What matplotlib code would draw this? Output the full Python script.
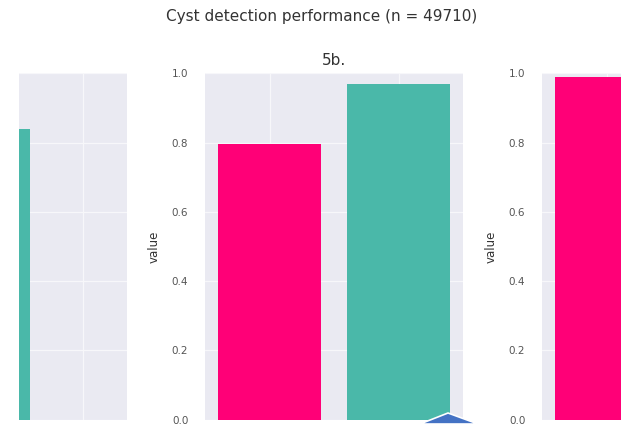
import matplotlib
matplotlib.use("Agg")
import matplotlib.pyplot as plt
from matplotlib.patches import Polygon
import seaborn as sns

left_pos = [1, 2]
left_vals = [0.838, 0.0]
left_colors = ["#4ab8a9", "#ff0077"]

mid_pos = [0, 1]
mid_vals = [0.796, 0.970]
mid_colors = ["#ff0077", "#4ab8a9"]

right_pos = [0]
right_vals = [0.988]
right_colors = ["#ff0077"]

yticks = [0.0, 0.2, 0.4, 0.6, 0.8, 1.0]

sns.set_style("darkgrid")
plt.rcParams['font.family'] = ['DejaVu Sans']

W, H = 621, 424
fig = plt.figure(figsize=(W / 100, H / 100), dpi=100)


def px_box(x0, x1, y_top, y_bot):
    return [x0 / W, 1 - y_bot / H, (x1 - x0) / W, (y_bot - y_top) / H]


def style_axis(ax, show_y=True):
    ax.set_ylim(0, 1.0)
    ax.set_yticks(yticks)
    ax.set_yticklabels([f"{t:.1f}" for t in yticks])
    ax.tick_params(axis='y', labelsize=7.5, colors='#555555', length=0, pad=12)
    ax.tick_params(axis='x', labelbottom=False, length=0)
    ax.grid(True, color='#f7f7fa', linewidth=0.9)
    for s in ax.spines.values():
        s.set_visible(False)
    if show_y:
        ax.set_ylabel("value", fontsize=8.5, color='#333333', labelpad=8)
    else:
        ax.tick_params(axis='y', labelleft=False)


# left panel (only its right part is in view)
ax_l = fig.add_axes(px_box(19, 127, 73.3, 419.5))
ax_l.bar(left_pos, left_vals, width=0.8, color=left_colors, edgecolor='none')
ax_l.set_xticks(left_pos)
style_axis(ax_l, show_y=False)
ax_l.set_xlim(1.27, 2.5)

# middle panel
ax_m = fig.add_axes(px_box(205, 463, 73.3, 419.5))
ax_m.bar(mid_pos, mid_vals, width=0.8, color=mid_colors, edgecolor='none')
ax_m.set_xticks(mid_pos)
style_axis(ax_m)
ax_m.set_xlim(-0.5, 1.5)
ax_m.set_title("5b.", fontsize=11, color='#333333', pad=6)

# right panel (cut off by the crop)
ax_r = fig.add_axes(px_box(542, 800, 73.3, 419.5))
ax_r.bar(right_pos, right_vals, width=0.8, color=right_colors, edgecolor='none')
ax_r.set_xticks([0, 1])
style_axis(ax_r)
ax_r.set_xlim(-0.5, 1.5)

fig.text(322 / W, 1 - 17 / H, "Cyst detection performance (n = 49710)",
         ha='center', va='center', fontsize=11, color='#333333')

# blue overlay shape at the bottom edge
tri = [(420 / W, 0.0), (448 / W, 1 - 413 / H), (478 / W, 0.0)]
fig.patches.append(Polygon(tri, closed=True, transform=fig.transFigure,
                           facecolor='#4472c4', edgecolor='white', linewidth=1.2,
                           zorder=10))

fig.savefig("out.png", dpi=100)
